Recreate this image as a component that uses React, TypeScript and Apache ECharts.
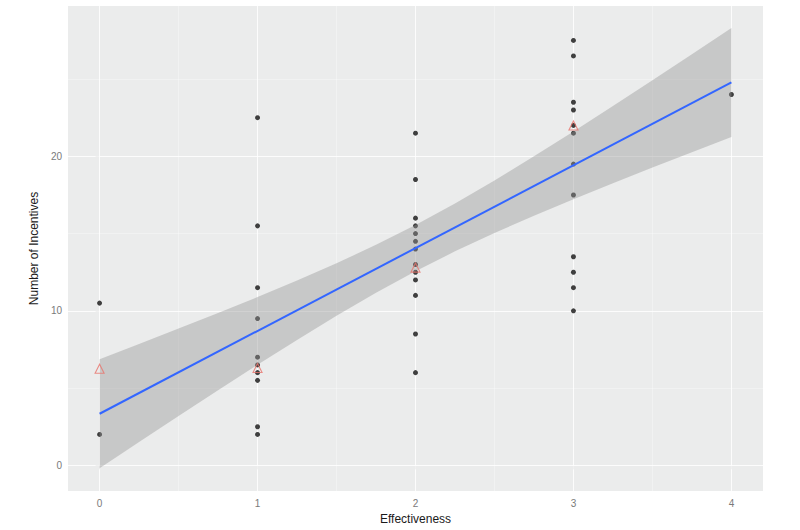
import React, { useEffect, useRef } from "react";
import * as echarts from "echarts";

// ---- data ----
const effectivenessLevels = [0, 1, 2, 3, 4];
const incentivesAt0 = [10.5, 2];
const incentivesAt1 = [22.5, 15.5, 11.5, 9.5, 7, 6.5, 6, 5.5, 2.5, 2];
const incentivesAt2 = [21.5, 18.5, 16, 15.5, 15, 14.5, 14, 13, 12.5, 12, 11, 8.5, 6];
const incentivesAt3 = [27.5, 26.5, 23.5, 23, 22, 21.5, 19.5, 17.5, 13.5, 12.5, 11.5, 10];
const incentivesAt4 = [24];

const summaryX = [0, 1, 2, 3];
const summaryY = [6.25, 6.3, 12.8, 22.0];

const fitX = [0, 4];
const fitY = [3.34, 24.78];

const bandX = [0, 0.25, 0.5, 0.75, 1, 1.25, 1.5, 1.75, 2, 2.25, 2.5, 2.75, 3, 3.25, 3.5, 3.75, 4];
const bandLower = [-0.19, 1.51, 3.19, 4.86, 6.51, 8.12, 9.68, 11.17, 12.56, 13.85, 15.04, 16.16, 17.23, 18.26, 19.27, 20.27, 21.25];
const bandUpper = [6.87, 7.85, 8.85, 9.86, 10.89, 11.96, 13.08, 14.27, 15.56, 16.95, 18.44, 20.0, 21.61, 23.26, 24.93, 26.61, 28.31];

const xMajor = [0, 1, 2, 3, 4];
const xMinor = [0.5, 1.5, 2.5, 3.5];
const yMajor = [0, 10, 20];
const yMinor = [5, 15, 25];

const X_MIN = -0.2;
const X_MAX = 4.2;
const Y_MIN = -1.66;
const Y_MAX = 29.73;

const FONT = "'Liberation Sans', Arial, sans-serif";

export default function App() {
  const ref = useRef<HTMLDivElement>(null);

  useEffect(() => {
    if (!ref.current) return;
    const chart = echarts.init(ref.current, null, { renderer: "svg" });

    const groups = [incentivesAt0, incentivesAt1, incentivesAt2, incentivesAt3, incentivesAt4];
    const points: number[][] = [];
    groups.forEach((g, i) => g.forEach((v) => points.push([effectivenessLevels[i], v])));

    const bandData = bandX.map((x, i) => [x, bandLower[i], bandUpper[i]]);

    const minorStyle = { width: 0.6, color: "rgba(255,255,255,0.55)" };
    const majorStyle = { width: 1.1, color: "rgba(255,255,255,0.85)" };
    const gridLineData = [
      ...xMinor.map((v) => ({ xAxis: v, lineStyle: minorStyle })),
      ...yMinor.map((v) => ({ yAxis: v, lineStyle: minorStyle })),
      ...xMajor.map((v) => ({ xAxis: v, lineStyle: majorStyle })),
      ...yMajor.map((v) => ({ yAxis: v, lineStyle: majorStyle })),
    ];

    chart.setOption({
      animation: false,
      backgroundColor: "#ffffff",
      textStyle: { fontFamily: FONT },
      grid: {
        left: 68,
        right: 37,
        top: 6,
        bottom: 39,
        show: true,
        backgroundColor: "#EBECEC",
        borderWidth: 0,
      },
      xAxis: {
        type: "value",
        min: X_MIN,
        max: X_MAX,
        name: "Effectiveness",
        nameLocation: "middle",
        nameGap: 18,
        nameTextStyle: { fontSize: 12, color: "#1a1a1a", fontFamily: FONT },
        axisLine: { show: false },
        axisTick: { show: true, length: 4, lineStyle: { color: "#9a9a9a", width: 1 }, customValues: xMajor },
        axisLabel: { customValues: xMajor, margin: 7, fontSize: 10, color: "#7a7a7a", fontFamily: FONT },
        splitLine: { show: false },
      },
      yAxis: {
        type: "value",
        min: Y_MIN,
        max: Y_MAX,
        name: "Number of Incentives",
        nameLocation: "middle",
        nameGap: 11,
        nameRotate: 90,
        nameTextStyle: { fontSize: 12, color: "#1a1a1a", fontFamily: FONT },
        axisLine: { show: false },
        axisTick: { show: true, length: 4, lineStyle: { color: "#9a9a9a", width: 1 }, customValues: yMajor },
        axisLabel: { customValues: yMajor, margin: 6, fontSize: 10, color: "#7a7a7a", fontFamily: FONT },
        splitLine: { show: false },
      },
      series: [
        {
          type: "line",
          data: [],
          silent: true,
          z: 1,
          markLine: {
            silent: true,
            z: 1,
            symbol: "none",
            label: { show: false },
            lineStyle: { color: "#ffffff", type: "solid" },
            data: gridLineData,
          },
        },
        {
          type: "scatter",
          data: points,
          symbol: "circle",
          symbolSize: 5,
          itemStyle: { color: "#111111", borderWidth: 0 },
          silent: true,
          z: 3,
        },
        {
          type: "custom",
          data: bandData,
          silent: true,
          z: 4,
          renderItem: (params: any, api: any) => {
            if (params.dataIndex !== 0) return null;
            const upper: number[][] = [];
            const lower: number[][] = [];
            for (let i = 0; i < bandData.length; i++) {
              upper.push(api.coord([bandData[i][0], bandData[i][2]]));
              lower.push(api.coord([bandData[i][0], bandData[i][1]]));
            }
            return {
              type: "polygon",
              shape: { points: upper.concat(lower.reverse()) },
              style: { fill: "rgba(150,150,150,0.42)", stroke: "none" },
            };
          },
        },
        {
          type: "line",
          data: fitX.map((x, i) => [x, fitY[i]]),
          showSymbol: false,
          symbol: "none",
          lineStyle: { color: "#3366FF", width: 2 },
          silent: true,
          z: 5,
        },
        {
          type: "scatter",
          data: summaryX.map((x, i) => [x, summaryY[i]]),
          symbol: "triangle",
          symbolSize: 9,
          itemStyle: { color: "rgba(0,0,0,0)", borderColor: "#E8736C", borderWidth: 1.1 },
          silent: true,
          z: 6,
        },
      ],
    });

    return () => chart.dispose();
  }, []);

  return <div ref={ref} style={{ width: 800, height: 530, position: "absolute", left: 0, top: 0 }} />;
}
